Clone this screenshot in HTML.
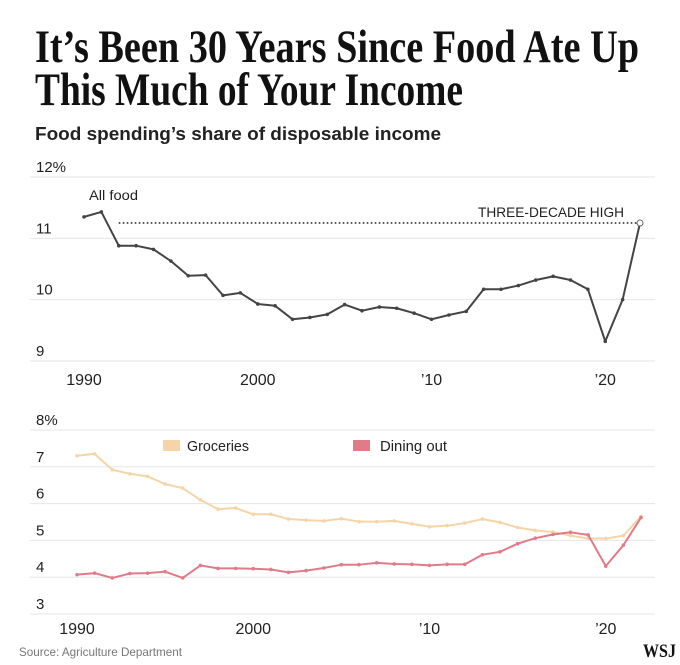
<!DOCTYPE html>
<html><head><meta charset="utf-8"><style>
body{margin:0;background:#fff}
svg{display:block}
.s{font-family:"Liberation Sans",sans-serif}
.r{font-family:"Liberation Serif",serif}
</style></head><body>
<svg id="c" width="680" height="665" viewBox="0 0 680 665">
<text class="r" x="35" y="62" font-weight="bold" font-size="47" textLength="604" lengthAdjust="spacingAndGlyphs" fill="#111">It’s Been 30 Years Since Food Ate Up</text>
<text class="r" x="35" y="105" font-weight="bold" font-size="47" textLength="428" lengthAdjust="spacingAndGlyphs" fill="#111">This Much of Your Income</text>
<text class="s" x="35" y="140" font-size="18" font-weight="bold" textLength="406" lengthAdjust="spacingAndGlyphs" fill="#222">Food spending’s share of disposable income</text>
<g id="top"></g><g id="bot"></g>
<rect x="163" y="440" width="17" height="11" fill="#f5d5a8"/>
<text class="s" x="187" y="451" font-size="15" textLength="62" lengthAdjust="spacingAndGlyphs" fill="#222">Groceries</text>
<rect x="353" y="440" width="17" height="11" fill="#e07b88"/>
<text class="s" x="380" y="451" font-size="15" textLength="67" lengthAdjust="spacingAndGlyphs" fill="#222">Dining out</text>
<text class="s" x="19" y="656" font-size="12" textLength="163" lengthAdjust="spacingAndGlyphs" fill="#777">Source: Agriculture Department</text>
<text class="r" x="643" y="657" font-weight="bold" font-size="19" textLength="33" lengthAdjust="spacingAndGlyphs" fill="#111">WSJ</text>
</svg>
<script>
const years=[1990,1991,1992,1993,1994,1995,1996,1997,1998,1999,2000,2001,2002,2003,2004,2005,2006,2007,2008,2009,2010,2011,2012,2013,2014,2015,2016,2017,2018,2019,2020,2021,2022];
const allFood=[11.35,11.43,10.88,10.88,10.82,10.63,10.39,10.40,10.07,10.11,9.93,9.90,9.68,9.71,9.76,9.92,9.82,9.88,9.86,9.78,9.68,9.75,9.81,10.17,10.17,10.23,10.32,10.38,10.32,10.17,9.32,10.0,11.25];
const groceries=[7.30,7.35,6.92,6.81,6.74,6.53,6.42,6.10,5.85,5.88,5.71,5.71,5.58,5.55,5.53,5.59,5.51,5.51,5.53,5.45,5.37,5.40,5.47,5.58,5.49,5.35,5.27,5.23,5.13,5.05,5.05,5.13,5.65];
const dining=[4.07,4.11,3.98,4.10,4.11,4.15,3.98,4.32,4.24,4.24,4.23,4.21,4.13,4.18,4.25,4.34,4.34,4.39,4.36,4.35,4.32,4.35,4.35,4.61,4.69,4.91,5.06,5.16,5.22,5.15,4.30,4.87,5.62];
const topTicks=[12,11,10,9];
const topTickLabels=["12%","11","10","9"];
const botTicks=[8,7,6,5,4,3];
const botTickLabels=["8%","7","6","5","4","3"];
const xTicks=[1990,2000,2010,2020];
const xTickLabels=["1990","2000","’10","’20"];
const highValue=11.25;
const NS="http://www.w3.org/2000/svg";
function mk(p,t,a){const e=document.createElementNS(NS,t);for(const k in a)e.setAttribute(k,a[k]);p.appendChild(e);return e;}
function panel(g,x0,x1,y0,v0,y1,v1,ticks,labels,name,xLabY){
  const xs=y=>x0+(y-1990)*(x1-x0)/32;
  const ys=v=>y0+(v-v0)*(y1-y0)/(v1-v0);
  ticks.forEach((t,i)=>{
    const l=mk(g,'line',{x1:30,x2:655,y1:ys(t),y2:ys(t),stroke:'#e6e6e6','stroke-width':1});
    
    
    const tx=mk(g,'text',{class:'s',x:36,y:ys(t)-5,'font-size':15,fill:'#222'});tx.textContent=labels[i];
    
    
  });
  xTicks.forEach((t,i)=>{
    const tx=mk(g,'text',{class:'s',x:xs(t),y:xLabY,'font-size':16,fill:'#222','text-anchor':'middle'});tx.textContent=xTickLabels[i];
    
    
  });
  return {xs,ys};
}
function series(g,vals,s,color,name,w){
  const {xs,ys}=s;
  const p=mk(g,'polyline',{points:vals.map((v,i)=>xs(years[i])+','+ys(v)).join(' '),fill:'none',stroke:color,'stroke-width':w,'stroke-linejoin':'round'});
  
  
  vals.forEach((v,i)=>{const c=mk(g,'circle',{cx:xs(years[i]),cy:ys(v),r:1.8,fill:color});
    
    });
}
const tg=document.getElementById('top'),bg=document.getElementById('bot');
const ts=panel(tg,84,640,177,12,361,9,topTicks,topTickLabels,'top',385);
const dl=mk(tg,'line',{x1:ts.xs(1992),x2:ts.xs(2022),y1:ts.ys(highValue),y2:ts.ys(highValue),stroke:'#222','stroke-width':1.6,'stroke-dasharray':'1.6 2.4'});


const hl=mk(tg,'text',{class:'s',x:624,y:ts.ys(highValue)-6,'font-size':14,fill:'#222','text-anchor':'end',textLength:146,lengthAdjust:'spacingAndGlyphs'});hl.textContent='THREE-DECADE HIGH';


const af=mk(tg,'text',{class:'s',x:89,y:200,'font-size':14,fill:'#222',textLength:49,lengthAdjust:'spacingAndGlyphs'});af.textContent='All food';


series(tg,allFood,ts,'#444','all-food',2);
const lc=mk(tg,'circle',{cx:ts.xs(2022),cy:ts.ys(allFood[32]),r:3,fill:'#fff',stroke:'#666'});


const bs=panel(bg,77,641,430,8,614,3,botTicks,botTickLabels,'bottom',634);
series(bg,groceries,bs,'#f5d5a8','groceries',2);
series(bg,dining,bs,'#e07b88','dining-out',2);
</script>
</body></html>
